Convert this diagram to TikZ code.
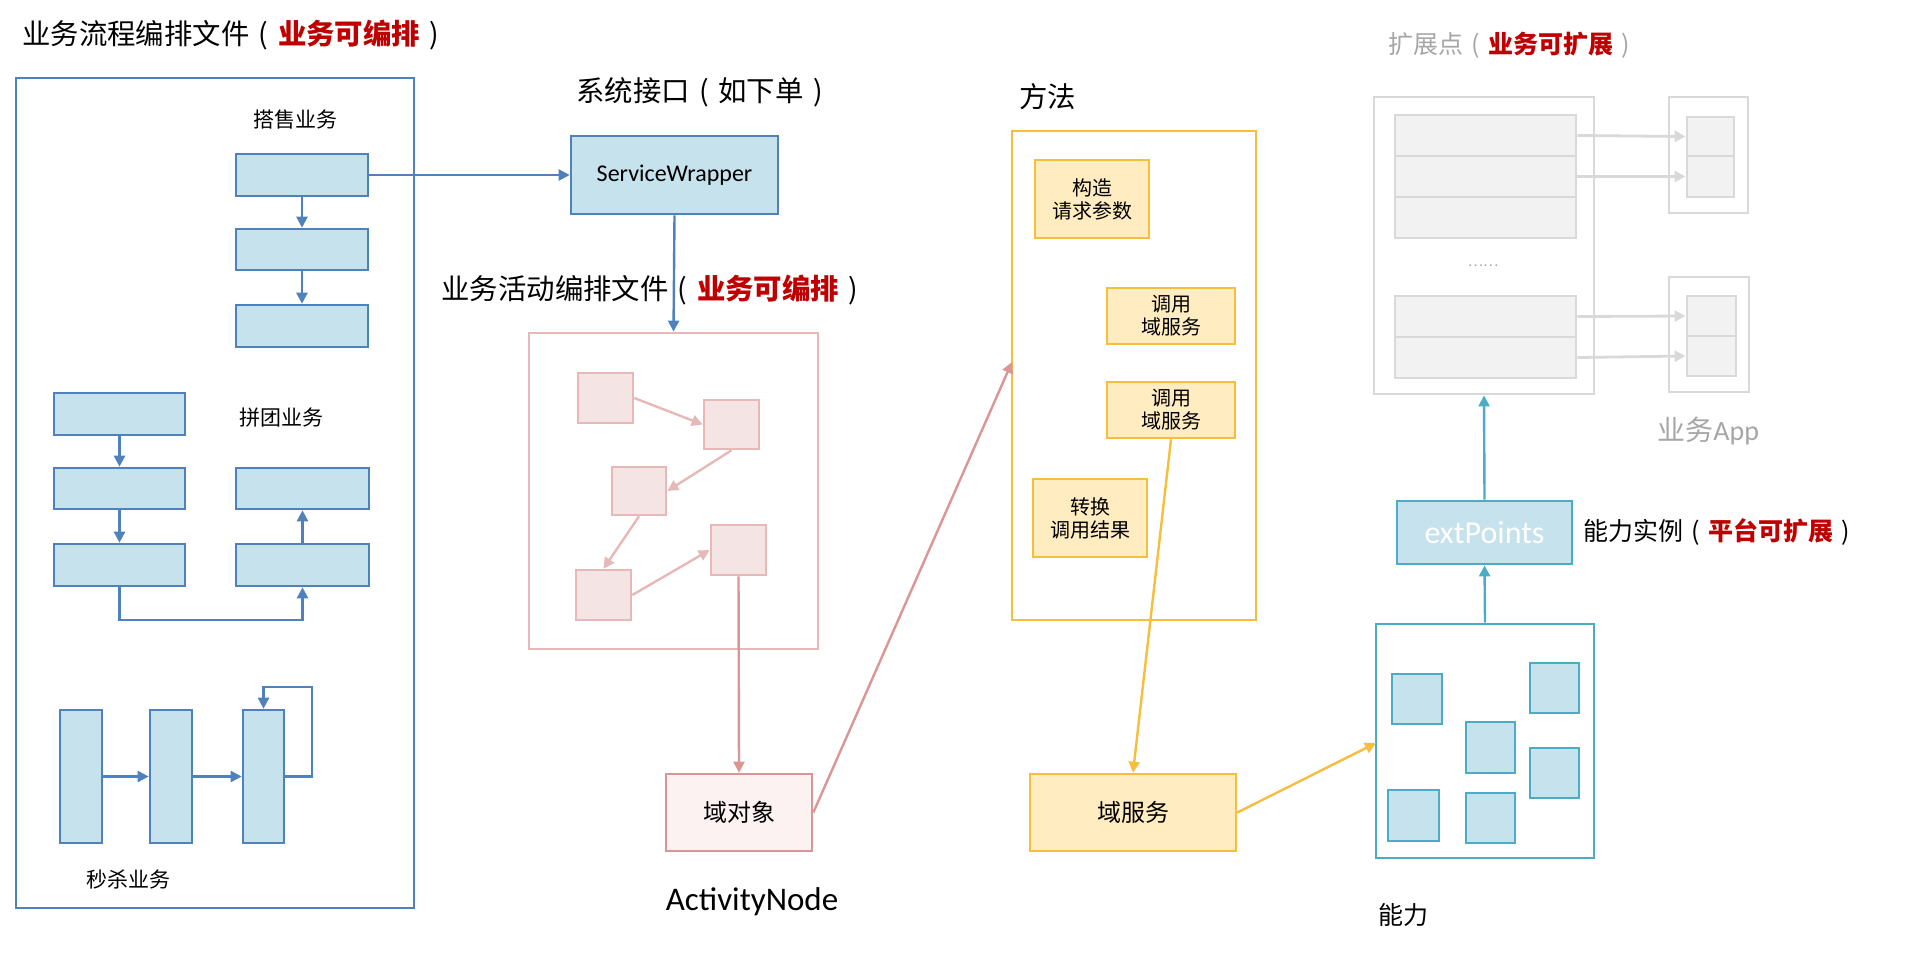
\documentclass[tikz,border=0pt]{standalone}
\usepackage{fontspec}
\setmainfont{Carlito}
\newfontfamily\cjk{Noto Sans CJK SC}
\usetikzlibrary{arrows.meta,fit}
\definecolor{bblue}{RGB}{79,129,189}
\definecolor{lblue}{RGB}{198,226,236}
\definecolor{pinkb}{RGB}{230,184,183}
\definecolor{pinkd}{RGB}{217,150,148}
\definecolor{pinkf}{RGB}{244,228,228}
\definecolor{pinkl}{RGB}{252,242,242}
\definecolor{yelc}{RGB}{247,190,60}
\definecolor{yelf}{RGB}{255,236,192}
\definecolor{tealc}{RGB}{75,172,198}
\definecolor{grayb}{RGB}{217,217,217}
\definecolor{grayf}{RGB}{242,242,242}
\definecolor{grayt}{RGB}{166,166,166}
\definecolor{redt}{RGB}{192,0,0}
\newcommand\lpar{\makebox[1em][c]{(}}
\newcommand\rpar{\makebox[1em][c]{)}}
\tikzset{
  bx/.style={inner sep=0pt, line width=1.3pt, draw},
  bigbx/.style={inner sep=0pt, line width=1.4pt, draw},
  bluebox/.style={bx, draw=bblue, fill=lblue},
  pinksq/.style={bx, draw=pinkb, fill=pinkf},
  yelbox/.style={bx, draw=yelc, fill=yelf},
  ytxt/.style={align=center, font=\cjk\fontsize{10}{11.5}\selectfont},
  tealsq/.style={bx, draw=tealc, fill=lblue},
  graybox/.style={bx, draw=grayb, fill=grayf, line width=1.4pt},
  arrb/.style={-{Triangle[length=5.5pt,width=5.5pt]}, line width=1.2pt},
  lbl/.style={anchor=west, inner sep=0pt},
  cjkL/.style={font=\cjk\fontsize{14.2}{16}\selectfont},
  cjkM/.style={font=\cjk\fontsize{12.5}{14}\selectfont},
  cjkS/.style={font=\cjk\fontsize{10.5}{12}\selectfont}
}
\begin{document}
\begin{tikzpicture}[x=0.5pt,y=-0.5pt]
\useasboundingbox (0,0) rectangle (1920,960);

% ---------- Left: business process orchestration ----------
\node[lbl, cjkL] (t1) at (22,35) {业务流程编排文件\lpar{\bfseries\color{redt}业务可编排}\rpar};
\node[bigbx, draw=bblue, fit={(16,78) (414,908)}] (left) {};
\node[cjkS] (lb1) at (295,120) {搭售业务};
\node[bluebox, fit={(236,154) (368,196)}] (d1) {};
\node[bluebox, fit={(236,229) (368,270)}] (d2) {};
\node[bluebox, fit={(236,305) (368,347)}] (d3) {};
\draw[arrb, bblue] (d1) -- (d2);
\draw[arrb, bblue] (d2) -- (d3);

\node[cjkS] (lb2) at (281,418) {拼团业务};
\node[bluebox, fit={(54,393) (185,435)}] (pA) {};
\node[bluebox, fit={(54,468) (185,509)}] (pB) {};
\node[bluebox, fit={(54,544) (185,586)}] (pC) {};
\node[bluebox, fit={(236,468) (369,509)}] (pD) {};
\node[bluebox, fit={(236,544) (369,586)}] (pE) {};
\coordinate (pg) at (304,620);
\draw[arrb, bblue] (pA) -- (pB);
\draw[arrb, bblue] (pB) -- (pC);
\draw[arrb, bblue] (pC.south) |- (pE.south |- pg) -- (pE.south);
\draw[arrb, bblue] (pE) -- (pD);

\node[bluebox, fit={(60,710) (102,843)}] (m1) {};
\node[bluebox, fit={(150,710) (192,843)}] (m2) {};
\node[bluebox, fit={(243,710) (284,843)}] (m3) {};
\coordinate (loop) at (312,687);
\draw[arrb, bblue] (m1) -- (m2);
\draw[arrb, bblue] (m2) -- (m3);
\draw[arrb, bblue] (m3.east) -| (loop) -| (m3.north);
\node[cjkS] (lb3) at (128,879) {秒杀业务};

% ---------- System interface ----------
\node[lbl, cjkL] (t2) at (576,92) {系统接口\lpar 如下单\rpar};
\node[bluebox, fit={(571,136) (778,214)}, label={[font=\fontsize{12}{14}\selectfont]center:ServiceWrapper}] (sw) {};
\draw[arrb, bblue] (d1.east) -- (sw.west);

% ---------- Activity orchestration ----------
\node[lbl, cjkL] (t3) at (441,290) {业务活动编排文件\lpar{\bfseries\color{redt}业务可编排}\rpar};
\node[bigbx, draw=pinkb, fit={(529,333) (818,649)}] (pink) {};
\draw[arrb, bblue] (sw.south) -- (pink.north);
\node[pinksq, fit={(578,373) (633,423)}] (q1) {};
\node[pinksq, fit={(704,400) (759,449)}] (q2) {};
\node[pinksq, fit={(612,467) (666,515)}] (q3) {};
\node[pinksq, fit={(711,525) (766,575)}] (q4) {};
\node[pinksq, fit={(576,570) (631,620)}] (q5) {};
\draw[arrb, pinkb] (q1.east) -- (q2.west);
\draw[arrb, pinkb] (q2.south) -- (q3.east);
\draw[arrb, pinkb] (q3.south) -- (q5.north);
\draw[arrb, pinkb] (q5.east) -- (q4.west);
\node[bx, draw=pinkd, fill=pinkl, fit={(666,774) (812,851)}, label={[font=\cjk\fontsize{12}{14}\selectfont]center:域对象}] (dobj) {};
\draw[arrb, pinkd] (q4.south) -- (dobj.north);
\node[font=\fontsize{16.5}{18}\selectfont] (an) at (752,902) {ActivityNode};

% ---------- Method ----------
\node[lbl, cjkL] (t4) at (1019,97) {方法};
\node[bigbx, draw=yelc, fit={(1012,131) (1256,620)}] (method) {};
\node[yelbox, fit={(1035,160) (1149,238)}, label={[ytxt]center:构造\\请求参数}] (c1) {};
\node[yelbox, fit={(1107,288) (1235,344)}, label={[ytxt]center:调用\\域服务}] (c2) {};
\node[yelbox, fit={(1107,382) (1235,438)}, label={[ytxt]center:调用\\域服务}] (c3) {};
\node[yelbox, fit={(1033,479) (1147,557)}, label={[ytxt]center:转换\\调用结果}] (c4) {};
\coordinate (mIn) at (1012,362);
\draw[arrb, pinkd] (dobj.east) -- (mIn);
\node[yelbox, fit={(1030,774) (1236,851)}, label={[font=\cjk\fontsize{12}{14}\selectfont]center:域服务}] (dsvc) {};
\draw[arrb, yelc] (c3.south) -- (dsvc.north);

% ---------- Ability ----------
\node[bigbx, draw=tealc, fit={(1376,624) (1594,858)}] (ab) {};
\node[tealsq, fit={(1392,674) (1442,724)}] (s1) {};
\node[tealsq, fit={(1530,663) (1579,713)}] (s2) {};
\node[tealsq, fit={(1466,722) (1515,773)}] (s3) {};
\node[tealsq, fit={(1530,748) (1579,798)}] (s4) {};
\node[tealsq, fit={(1388,790) (1439,841)}] (s5) {};
\node[tealsq, fit={(1466,793) (1515,843)}] (s6) {};
\coordinate (abIn) at (1376,743);
\draw[arrb, yelc] (dsvc.east) -- (abIn);
\node[lbl, cjkM] (t5) at (1378,915) {能力};

\node[bigbx, draw=tealc, fill=lblue, fit={(1397,501) (1572,564)}, label={[text=white, font=\fontsize{16}{18}\selectfont]center:extPoints}] (ext) {};
\draw[arrb, tealc] (ab.north) -- (ext.south);
\node[lbl, cjkM] (t6) at (1583,532) {能力实例\lpar{\bfseries\color{redt}平台可扩展}\rpar};

% ---------- Extension points ----------
\node[lbl, cjkM, text=grayt] (t7) at (1388,45) {扩展点\lpar{\bfseries\color{redt}业务可扩展}\rpar};
\node[bigbx, draw=grayb, fit={(1374,97) (1594,394)}] (ep) {};
\draw[arrb, tealc] (ext.north) -- (ep.south);
\node[graybox, fit={(1395,115) (1576,156)}] (r1) {};
\node[graybox, fit={(1395,156) (1576,197)}] (r2) {};
\node[graybox, fit={(1395,197) (1576,238)}] (r3) {};
\node[text=grayt, font=\cjk\fontsize{7.2}{8}\selectfont] (dots) at (1483,266) {……};
\node[graybox, fit={(1395,296) (1576,337)}] (r4) {};
\node[graybox, fit={(1395,337) (1576,378)}] (r5) {};

\node[bigbx, draw=grayb, fit={(1669,97) (1748,213)}] (o1) {};
\node[graybox, fit={(1687,117) (1734,156)}] (a1) {};
\node[graybox, fit={(1687,156) (1734,197)}] (a2) {};
\node[bigbx, draw=grayb, fit={(1669,277) (1749,392)}] (o2) {};
\node[graybox, fit={(1687,296) (1736,336)}] (b1) {};
\node[graybox, fit={(1687,336) (1736,376)}] (b2) {};
\draw[arrb, grayb, line width=1.4pt] (r1.east) -- (a1.west);
\draw[arrb, grayb, line width=1.4pt] (r2.east) -- (a2.west);
\draw[arrb, grayb, line width=1.4pt] (r4.east) -- (b1.west);
\draw[arrb, grayb, line width=1.4pt] (r5.east) -- (b2.west);
\node[lbl, text=grayt, font=\fontsize{14}{16}\selectfont] (app) at (1657,431) {{\cjk 业务}App};
\end{tikzpicture}
\end{document}
